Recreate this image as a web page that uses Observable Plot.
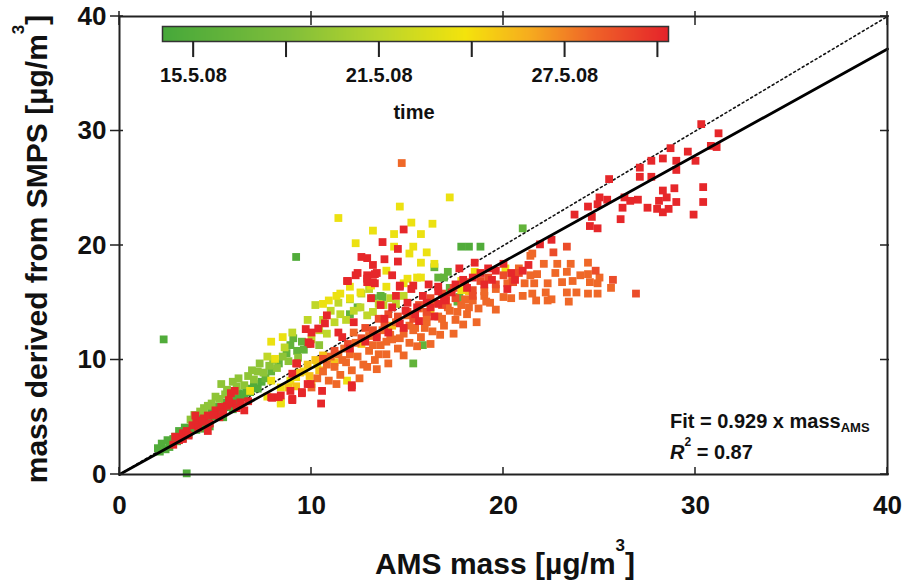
<!DOCTYPE html>
<html>
<head>
<meta charset="utf-8">
<script src="https://cdn.jsdelivr.net/npm/d3@7"></script>
<script src="https://cdn.jsdelivr.net/npm/@observablehq/plot@0.6"></script>
<style>
  html, body { margin: 0; padding: 0; background: #fff; }
  #wrap { position: relative; width: 906px; height: 584px; overflow: hidden; }
</style>
</head>
<body>
<div id="wrap"></div>
<script>
// ---------------- DATA ----------------
// axis ticks
const xTicks = [0, 10, 20, 30, 40];
const yTicks = [0, 10, 20, 30, 40];
// colour bar (day of May 2008)
const cbStart = 14.0, cbEnd = 30.35;
const cbStops  = [14.0, 18.1, 21.0, 23.8, 25.8, 27.9, 30.35];
const cbColors = ["#46a83a", "#80be3a", "#b9d52c", "#f4e30c", "#f6ae1e", "#ef6428", "#e5232a"];
const cbTicks = [15, 18, 21, 24, 27, 30];
const cbLabelDays = [15, 21, 27];
const cbLabels = ["15.5.08", "21.5.08", "27.5.08"];
// fit
const fitSlope = 0.929;
const fitR2 = "0.87";

// sampling periods (day of May) of each group of points
const groupDays = [14.8, 16.0, 18.8, 21.3, 23.4, 25.0, 27.8, 28.8, 30.2];

// [AMS mass, SMPS mass] per period
const p1 = [[2.0,2.3],[2.2,2.7],[2.4,2.2],[2.5,3.0],[2.7,2.7],[2.9,3.3],[3.0,2.9],[3.2,3.6],[3.3,3.2],[3.5,3.9],[3.6,3.5],[3.8,4.3],[4.0,3.9],[4.1,4.7],[4.3,4.3],[4.5,5.1],[4.6,4.6],[4.8,5.5],[5.0,5.1],[5.1,5.9],[5.3,5.5],[5.5,6.3],[5.6,5.9],[5.8,6.7],[6.0,6.3],[6.2,7.1],[6.4,6.8],[6.6,7.5],[6.8,7.2],[7.0,7.9],[4.4,4.0],[5.9,5.7],[2.6,2.4],[3.1,3.8],[3.4,4.1],[4.7,4.2],[6.3,6.0],[3.5,0.1],[2.3,11.8],[9.2,19.0],[17.8,19.9],[18.2,19.9],[18.8,19.9],
  [2.1,2.0],[2.8,3.1],[3.9,4.6],[4.9,5.8],[5.4,5.0],[6.1,6.6],[6.5,7.0],[7.2,7.5],[7.4,8.1],[3.7,4.0],[4.2,4.9],[5.7,6.2]];
const p2 = [[8.9,11.3],[9.25,10.8],[9.5,11.6],[9.05,11.9],[9.6,10.9],[9.8,11.4],[8.7,10.6],[13.6,15.6],[13.2,15.4],[13.7,15.5],[16.4,18.1],[17.1,17.7],[16.9,17.2],[16.6,17.2],[17.2,16.3],[17.7,15.5],[17.6,15.1],[21.0,21.5],[15.3,9.7],[15.8,11.3],[12.0,14.0],[12.4,14.6],[7.6,8.4],[7.9,9.0],[8.3,9.7]];
const p3 = [[3.9,5.2],[4.4,5.8],[4.8,6.2],[5.2,6.6],[5.3,7.9],[5.6,7.4],[5.7,7.0],[5.9,8.1],[6.1,7.7],[6.2,8.4],[6.5,7.8],[6.7,8.6],[7.0,8.3],[7.2,9.0],[7.5,8.9],[7.8,9.5],[8.2,9.3],[8.0,10.0],[8.5,10.3],[5.0,6.8],[5.5,7.0],[6.0,7.3],[6.9,9.1],[7.3,9.7],[8.8,9.9],[4.6,6.0],[4.2,5.5],[3.7,4.8],[9.3,10.2],[10.4,11.3]];
const p4 = [[10.0,11.8],[10.4,12.6],[10.8,12.3],[11.2,13.3],[11.5,14.0],[11.8,13.5],[12.2,14.3],[12.55,14.6],[12.9,13.9],[13.2,14.2],[13.5,14.9],[13.75,14.8],[14.1,15.4],[14.4,14.9],[14.8,15.6],[10.6,13.5],[11.0,14.3],[11.4,15.0],[12.0,15.3],[12.6,15.8],[13.0,16.2],[10.2,14.8],[9.8,13.5],[8.6,11.1],[9.0,12.4],[7.7,10.3]];
const p5 = [[7.9,11.6],[8.1,10.1],[8.5,12.0],[10.6,14.9],[10.9,15.2],[11.3,15.6],[11.5,15.8],[12.0,16.4],[12.0,15.4],[12.55,15.9],[13.1,16.5],[13.9,16.4],[14.8,16.7],[15.0,17.1],[15.7,17.2],[6.8,7.3],[7.7,6.8],[8.4,6.3],[7.9,8.2],[8.4,7.6],[9.2,8.5],[8.4,6.2],[11.85,8.2],[10.0,7.9],[11.4,22.4],[14.6,23.4],[15.2,22.0],[16.3,21.9],[13.2,21.3],[14.3,21.0],[15.7,21.0],[12.3,20.2],[14.3,19.9],[15.3,19.9],[15.1,19.3],[16.0,19.4],[15.7,18.5],[13.9,17.8],[15.5,17.2],[17.2,24.2],[17.8,16.9],[18.5,17.7],[20.1,18.0],[17.8,16.1],[16.4,18.4],[9.6,9.0],[10.3,9.6],[11.0,10.2],[8.9,8.2]];
const p6 = [[9.4,8.9],[9.8,9.6],[10.2,10.0],[10.6,10.4],[9.9,8.6],[10.4,9.1],[11.2,9.8],[12.0,10.6],[12.6,11.4],[13.4,12.2],[14.2,13.0],[8.8,7.6],[9.2,7.7],[16.2,14.4],[17.0,15.0],[18.2,16.0]];
const p7 = [[10.3,8.4],[10.6,9.0],[10.9,8.2],[11.2,9.4],[11.5,8.7],[11.8,9.8],[12.1,9.1],[12.4,10.3],[12.7,9.6],[13.0,10.8],[13.3,10.0],[13.6,11.3],[13.9,10.5],[14.2,11.8],[14.5,11.0],[14.8,12.3],[15.1,11.5],[15.4,12.8],[15.7,12.0],[16.0,13.3],[16.3,12.5],[16.6,13.8],[16.9,13.0],[17.2,14.3],[17.5,13.5],[17.8,14.8],[18.1,14.0],[18.4,15.2],[18.7,14.5],[19.0,15.6],[19.3,15.0],[19.6,16.2],[20.0,15.5],[11.0,10.3],[11.7,11.0],[12.3,11.5],[13.0,12.1],[13.7,12.6],[14.4,13.3],[15.0,13.9],[15.6,14.5],[16.4,15.0],[17.0,15.6],[10.0,7.6],[11.3,7.9],[12.5,8.4],[13.4,9.2],[14.0,9.7],[14.8,10.4],[16.2,11.4],[17.4,12.3],[18.6,13.3],[19.6,14.4],[12.2,12.4],[20.4,15.4],[14.7,27.2],
  [11.6,10.0],[12.9,9.4],[13.9,11.6],[14.6,11.9],[15.3,12.6],[15.9,12.8],[16.8,13.6],[17.6,14.2],[18.2,14.6],[19.1,15.1],[12.0,10.5],[13.2,11.3],[14.1,12.2],[15.1,13.0],[16.0,13.8],[17.1,14.6],[18.0,15.3],[19.0,16.0],[10.8,9.6],[11.4,10.5],[15.5,11.2],[16.7,12.2],[17.9,13.1],[13.5,10.5],
  [21.4,19.1],[22.1,18.4],[22.8,18.4],[23.5,18.4],[24.4,18.5],[21.4,17.4],[21.75,17.5],[22.7,17.6],[23.3,17.7],[24.0,17.4],[24.4,17.5],[21.1,16.7],[21.6,16.7],[22.3,16.7],[23.05,16.8],[23.6,16.9],[24.5,16.8],[24.9,16.7],[25.6,16.3],[21.0,15.6],[21.5,15.8],[21.7,15.2],[22.2,15.9],[23.3,15.9],[23.8,15.9],[23.4,15.1],[22.5,15.3],[24.4,15.8],[24.9,15.8],[20.2,16.7],[20.45,17.1],[21.5,19.3],[22.3,15.2],[20.8,18.0],[25.0,17.2]];
const p8 = [[15.0,14.2],[15.6,14.8],[16.2,15.4],[16.8,15.8],[17.4,16.3],[18.0,16.8],[18.4,16.1],[18.8,16.9],[19.2,17.2],[19.6,16.6],[20.0,17.4],[20.5,16.8],[20.8,17.6],[14.5,13.8],[13.8,13.0],[13.2,12.6],[12.6,11.9],[11.9,11.4],[11.2,10.8],[10.6,10.1],[15.3,13.6],[16.0,14.2],[16.8,14.8],[17.5,15.4],[18.4,15.6],[22.6,19.4],[23.3,19.9],[24.8,17.8],[25.7,17.0],[26.9,15.8],[14.0,14.0],[13.5,13.6],[12.8,12.8]];
const p9 = [[2.9,3.3],[3.3,3.6],[3.5,3.8],[3.8,4.3],[4.0,4.7],[4.1,4.1],[4.4,4.9],[4.6,5.15],[4.7,4.45],[5.0,5.6],[5.3,5.9],[5.4,5.4],[5.6,6.0],[5.9,6.2],[5.8,7.1],[6.0,7.3],[6.1,5.8],[6.5,5.6],[4.6,3.8],[3.95,5.15],[3.3,3.1],[2.8,2.6],[3.1,3.0],[5.2,5.0],[4.9,5.2],[3.6,3.4],[4.3,4.6],[5.7,6.5],[6.3,6.3],[6.7,6.4],
  [9.0,8.8],[9.25,9.7],[9.5,7.1],[9.0,6.5],[8.4,6.9],[9.95,11.4],[9.8,7.9],[7.95,6.7],[8.9,7.3],[7.9,6.75],[8.3,6.75],[9.0,6.6],[9.5,7.2],[10.55,7.3],[10.5,6.2],[9.95,7.9],[12.1,7.8],[9.2,9.7],[12.1,7.6],
  [10.8,13.9],[10.7,13.2],[9.7,12.7],[10.0,12.4],[10.35,12.75],[9.85,11.55],[11.4,12.4],[12.2,13.3],[13.1,15.4],[11.85,16.9],[12.3,17.4],[12.9,17.4],[13.3,17.5],[12.9,16.8],[13.3,16.7],[14.2,17.4],[14.6,16.5],[15.3,16.5],[14.8,21.4],[13.7,20.3],[14.5,19.7],[12.6,19.0],[12.9,18.9],[13.2,18.3],[13.8,18.8],[14.5,18.6],[12.4,17.6],[11.9,16.9],[12.9,17.1],[13.4,17.6],[13.2,16.8],[14.6,16.4],[17.7,18.0],[16.1,16.6],[16.6,16.4],[11.6,12.0],
  [13.8,13.6],[14.2,14.6],[14.6,13.2],[15.0,15.0],[15.4,14.0],[15.8,15.6],[16.2,14.6],[16.6,16.0],[14.0,12.4],[14.8,12.8],[15.6,13.4],[16.4,13.8],[17.0,15.2],[13.6,14.8],[14.4,15.6],[15.2,16.2],
  [12.0,11.0],[12.8,11.6],[13.4,12.0],[16.0,15.0],[16.9,15.5],[17.5,16.6],[18.1,16.3],[17.3,15.9],[15.5,14.6],[14.9,14.3],[16.6,14.9],[19.4,17.0],[20.6,17.0],[21.0,17.8],[21.3,18.3],
  [18.4,17.2],[18.8,17.6],[19.2,18.0],[19.6,17.8],[20.0,18.4],[20.4,17.6],[19.0,16.6],[20.2,16.2],[18.5,18.5],[17.9,17.0],
  [30.3,30.6],[31.2,29.8],[28.7,28.5],[29.6,28.2],[30.8,28.7],[31.1,28.6],[27.7,27.4],[28.3,27.6],[29.0,27.4],[30.0,27.4],[27.1,26.8],[29.0,26.6],[27.1,26.0],[27.7,26.0],[25.5,25.8],[30.4,25.1],[28.9,25.0],[28.3,24.8],[25.0,24.2],[25.4,24.0],[26.3,24.2],[27.0,24.0],[28.5,24.2],[29.0,23.8],[30.4,23.8],[24.4,23.4],[24.9,23.6],[26.2,23.3],[27.5,23.3],[28.0,23.2],[28.3,22.9],[23.7,22.7],[24.6,22.5],[26.1,22.3],[29.9,22.7],[24.5,21.7],[24.9,21.5],[26.6,23.9],[28.1,23.9],[28.6,23.2],[21.9,20.1],[22.5,20.5]];

const groups = [p1, p2, p3, p4, p5, p6, p7, p8, p9];
const points = groups.flatMap((g, i) => g.map(([a, s]) => ({ams: a, smps: s, day: groupDays[i]})));
const oneToOne = [[0, 0], [40, 40]];
const fitLine = [[0, 0], [40, 40 * fitSlope]];

// ---------------- DRAW ----------------
const FONT = "'Liberation Sans', Arial, Helvetica, sans-serif";
const AX = "#222";
const colorSpec = {type: "linear", domain: cbStops, range: cbColors, clamp: true};
const W = 906, H = 584, ML = 119, MR = 19, MT = 16, MB = 110;

const chart = Plot.plot({
  width: W, height: H,
  marginLeft: ML, marginRight: MR, marginTop: MT, marginBottom: MB,
  style: {fontFamily: FONT, background: "white", overflow: "visible"},
  x: {domain: [0, 40], axis: null},
  y: {domain: [0, 40], axis: null},
  color: colorSpec,
  marks: [
    Plot.line(oneToOne, {x: d => d[0], y: d => d[1], stroke: "#111", strokeWidth: 1.6, strokeDasharray: "2,3"}),
    Plot.dot(points, {x: "ams", y: "smps", fill: "day", symbol: "square", r: 4.4}),
    Plot.line(fitLine, {x: d => d[0], y: d => d[1], stroke: "#000", strokeWidth: 2.8}),
    Plot.frame({stroke: AX, strokeWidth: 2}),
    Plot.axisX({anchor: "bottom", ticks: xTicks, tickSize: 0, tickPadding: 21, label: null, fontSize: 26, fontWeight: "bold", fill: "#111"}),
    Plot.axisY({anchor: "left", ticks: yTicks, tickSize: 0, tickPadding: 13, label: null, fontSize: 26, fontWeight: "bold", fill: "#111"})
  ]
});

const svg = d3.select(chart);
// tick marks placed through the chart's own scales
const sx = chart.scale("x"), sy = chart.scale("y");
const x0 = sx.apply(0), x40 = sx.apply(40), y0 = sy.apply(0), y40 = sy.apply(40);
let tickPath = "";
for (const t of xTicks) {
  const px = sx.apply(t);
  tickPath += `M${px},${y0}v-7`;            // bottom, inward
  tickPath += `M${px},${y40 - 5}v14`;       // top, crossing
}
for (const t of yTicks) {
  const py = sy.apply(t);
  tickPath += `M${x0 - 9},${py}h13`;        // left, crossing
  tickPath += `M${x40 - 7},${py}h9`;        // right, inward
}
svg.append("path").attr("d", tickPath).attr("fill", "none").attr("stroke", AX).attr("stroke-width", 1.5);

// x title
const xt = svg.append("text").attr("x", 505).attr("y", 574).attr("text-anchor", "middle")
  .attr("font-family", FONT).attr("font-weight", "bold").attr("font-size", 30).attr("fill", "#111");
xt.append("tspan").text("AMS mass [µg/m");
xt.append("tspan").attr("font-size", 17).attr("dy", -23).text("3");
xt.append("tspan").attr("dy", 23).text("]");
// y title
const yt = svg.append("text").attr("transform", "translate(47,249) rotate(-90)").attr("text-anchor", "middle")
  .attr("font-family", FONT).attr("font-weight", "bold").attr("font-size", 30).attr("fill", "#111");
yt.append("tspan").text("mass derived from SMPS [µg/m");
yt.append("tspan").attr("font-size", 17).attr("dy", -23).text("3");
yt.append("tspan").attr("dy", 23).text("]");
// fit annotation
const ft = svg.append("text").attr("x", 670).attr("y", 428).attr("text-anchor", "start")
  .attr("font-family", FONT).attr("font-weight", "bold").attr("font-size", 20).attr("fill", "#111");
ft.append("tspan").text(`Fit = ${fitSlope} x mass`);
ft.append("tspan").attr("font-size", 13).attr("dy", 4).text("AMS");
const rt = svg.append("text").attr("x", 670).attr("y", 459).attr("text-anchor", "start")
  .attr("font-family", FONT).attr("font-weight", "bold").attr("font-size", 20).attr("fill", "#111");
rt.append("tspan").attr("font-style", "italic").text("R");
rt.append("tspan").attr("font-size", 12).attr("dy", -13).text("2");
rt.append("tspan").attr("dy", 13).text(` = ${fitR2}`);

// colour bar (time legend)
const cb = Plot.plot({
  width: W, height: 130,
  marginLeft: 162, marginRight: W - 668, marginTop: 26, marginBottom: 130 - 41,
  style: {fontFamily: FONT, background: "transparent", position: "absolute", left: "0px", top: "0px", overflow: "visible"},
  x: {domain: [cbStart, cbEnd], axis: null},
  y: {domain: [0, 1], axis: null},
  color: colorSpec,
  marks: [
    Plot.raster({x1: cbStart, x2: cbEnd, y1: 0, y2: 1, width: 506, height: 1, fill: (x, y) => x, imageRendering: "auto"}),
    Plot.link(cbTicks, {x1: d => d, x2: d => d, y1: 0, y2: -1.04, stroke: "#222", strokeWidth: 1.5}),
    Plot.frame({stroke: "#333", strokeWidth: 1.5}),
    Plot.text(cbLabelDays, {x: d => d, frameAnchor: "bottom", dy: 40, text: d => cbLabels[cbLabelDays.indexOf(d)],
      fontSize: 20, fontWeight: "bold", fill: "#111"})
  ]
});
const cbs = d3.select(cb);
const cx = cb.scale("x");
let cbPath = "";
for (const t of cbTicks) cbPath += `M${cx.apply(t)},41v16`;
cbs.append("path").attr("d", cbPath).attr("fill", "none").attr("stroke", "#222").attr("stroke-width", 1.5);
cbs.append("text").attr("x", 414).attr("y", 119).attr("text-anchor", "middle")
  .attr("font-family", FONT).attr("font-weight", "bold").attr("font-size", 20).attr("fill", "#111").text("time");

const wrap = document.getElementById("wrap");
wrap.appendChild(chart);
wrap.appendChild(cb);
</script>
</body>
</html>
